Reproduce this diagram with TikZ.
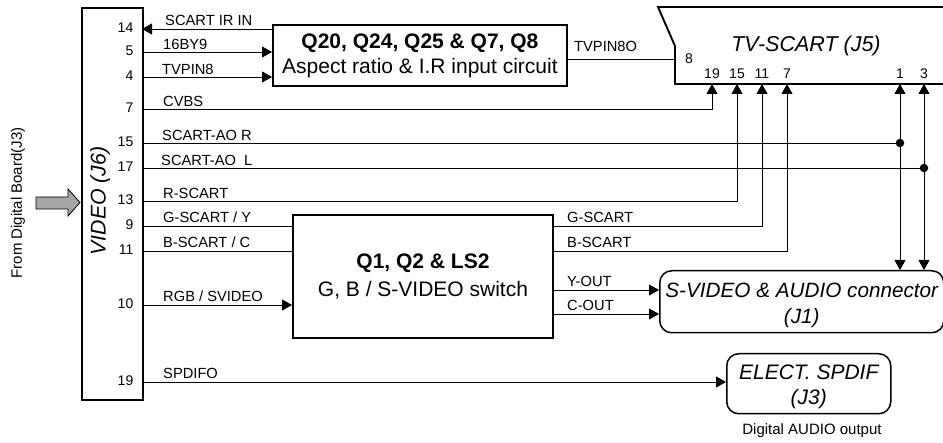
\documentclass[tikz,border=0pt]{standalone}
\usepackage{fontspec}
\setmainfont{Liberation Sans}
\usetikzlibrary{arrows.meta,positioning}

\tikzset{
  blockbox/.style={draw, line width=1.9pt, rectangle, inner sep=0pt, anchor=north west, align=center},
  connbox/.style={draw, line width=1.5pt, rectangle, rounded corners=12pt, inner sep=0pt, anchor=north west},
  boxtext/.style={inner sep=0pt, align=center, yshift=-3.5pt},
  sig/.style={line width=0.8pt},
  sigarrow/.style={line width=0.8pt, -{Triangle[length=10pt,width=11pt]}},
  sigback/.style={line width=0.8pt, {Triangle[length=10pt,width=11pt]}-},
  siglabel/.style={font=\fontsize{14.7}{16}\selectfont, anchor=base west, inner sep=0pt},
  pinlabel/.style={font=\fontsize{14}{16}\selectfont, inner sep=0pt},
  junction/.style={circle, fill=black, inner sep=0pt, minimum size=8.5pt},
}

\begin{document}
\begin{tikzpicture}[x=1pt, y=-1pt]
\useasboundingbox (0,0) rectangle (943,443);

% Blocks
\node[blockbox, minimum width=61pt, minimum height=392pt] (video) at (81,7) {};
\node[blockbox, minimum width=294pt, minimum height=61pt, font=\fontsize{21}{25}\selectfont] (aspect) at (272,24)
  {\textbf{Q20, Q24, Q25 \& Q7, Q8}\\Aspect ratio \& I.R input circuit};
\node[blockbox, minimum width=260pt, minimum height=123pt, font=\fontsize{21}{28}\selectfont] (switch) at (292,214)
  {\textbf{Q1, Q2 \& LS2}\\G, B / S-VIDEO switch};
\node[connbox, minimum width=284pt, minimum height=62pt] (svideo) at (659,270) {};
\node[boxtext, font=\fontsize{20.7}{26}\selectfont\itshape] (svideotext) at (svideo) {S-VIDEO \& AUDIO connector\\(J1)};
\node[connbox, minimum width=164pt, minimum height=60pt] (spdif) at (726,353) {};
\node[boxtext, font=\fontsize{21}{25}\selectfont\itshape] (spdiftext) at (spdif) {ELECT. SPDIF\\(J3)};

% TV-SCART outline
\draw[line width=1.9pt] (943,7) -- (658,7) -- (675,46) -- (675,84) -- (943,84);
\node[font=\fontsize{21.5}{24}\selectfont\itshape, inner sep=0pt] (scarttitle) at (806,46) {TV-SCART (J5)};

% Pins on VIDEO
\foreach \pinname/\pinnum/\pinpos in {a/14/29, b/5/52, c/4/77, d/7/109, e/15/143, f/17/168, g/13/201, h/9/226, i/11/251, j/10/305, k/19/382} {
  \coordinate (v\pinname) at (142,\pinpos);
  \node[pinlabel, anchor=east] (vnum\pinname) at (133.5,\pinpos-1) {\pinnum};
}

% Pins on TV-SCART
\foreach \pinname/\pinnum/\pinpos in {a/19/712, b/15/737, c/11/762, d/7/787, e/1/900, f/3/924} {
  \coordinate (s\pinname) at (\pinpos,84);
  \node[pinlabel] (snum\pinname) at (\pinpos,74) {\pinnum};
}
\node[pinlabel] (snumg) at (689,59) {8};

% Connectors to aspect circuit
\draw[sigback] (va) -- (va -| aspect.west);
\draw[sigarrow] (vb) -- (vb -| aspect.west);
\draw[sigarrow] (vc) -- (vc -| aspect.west);
\coordinate (sin) at (675,59);
\draw[sig] (sin -| aspect.east) -- (sin);

% Connectors to TV-SCART
\draw[sigarrow] (vd) -| (sa);
\draw[sigarrow] (vg) -| (sb);
\draw[sigarrow] (vh -| switch.east) -| (sc);
\draw[sigarrow] (vi -| switch.east) -| (sd);

% Audio lines and junctions
\node[junction] (ja) at (900,143) {};
\node[junction] (jb) at (924,168) {};
\draw[sig] (ve) -- (ja);
\draw[sig] (vf) -- (jb);
\draw[sigarrow] (ja) -- (se);
\draw[sigarrow] (jb) -- (sf);
\draw[sigarrow] (ja) -- (ja |- svideo.north);
\draw[sigarrow] (jb) -- (jb |- svideo.north);

% Connectors to switch
\draw[sig] (vh) -- (vh -| switch.west);
\draw[sig] (vi) -- (vi -| switch.west);
\draw[sigarrow] (vj) -- (vj -| switch.west);

% Outputs
\coordinate (yout) at (552,290);
\coordinate (cout) at (552,314);
\draw[sigarrow] (yout) -- (yout -| svideo.west);
\draw[sigarrow] (cout) -- (cout -| svideo.west);
\draw[sigarrow] (vk) -- (vk -| spdif.west);

% Signal names
\node[siglabel] (lira) at (165,26) {SCART IR IN};
\node[siglabel] (lbya) at (163,50) {16BY9};
\node[siglabel] (ltvp) at (162,75) {TVPIN8};
\node[siglabel] (lcvb) at (163,107) {CVBS};
\node[siglabel] (laor) at (162,141) {SCART-AO R};
\node[siglabel] (laol) at (161,166) {SCART-AO\ \ L};
\node[siglabel] (lrsc) at (163,199) {R-SCART};
\node[siglabel] (lgsc) at (163,223) {G-SCART / Y};
\node[siglabel] (lbsc) at (163,248) {B-SCART / C};
\node[siglabel] (lrgb) at (163,302) {RGB / SVIDEO};
\node[siglabel] (lspd) at (163,379) {SPDIFO};
\node[siglabel] (ltvo) at (574,52) {TVPIN8O};
\node[siglabel] (lgou) at (567,223) {G-SCART};
\node[siglabel] (lbou) at (567,248) {B-SCART};
\node[siglabel] (lyou) at (567,287) {Y-OUT};
\node[siglabel] (lcou) at (567,311) {C-OUT};

% Left side
\node[font=\fontsize{21.3}{24}\selectfont\itshape, rotate=90, inner sep=0pt] (videotitle) at (100,201) {VIDEO (J6)};
\node[font=\fontsize{15}{17}\selectfont, rotate=90, inner sep=0pt] (fromboard) at (18,203) {From Digital Board(J3)};
\draw[fill=black!35, line width=0.8pt] (36,197) -- (68,197) -- (68,189) -- (80,202.5) -- (68,216) -- (68,209) -- (36,209) -- cycle;

% Caption
\node[font=\fontsize{15}{17}\selectfont, inner sep=0pt] (digcap) at (812,431) {Digital AUDIO output};
\end{tikzpicture}
\end{document}
